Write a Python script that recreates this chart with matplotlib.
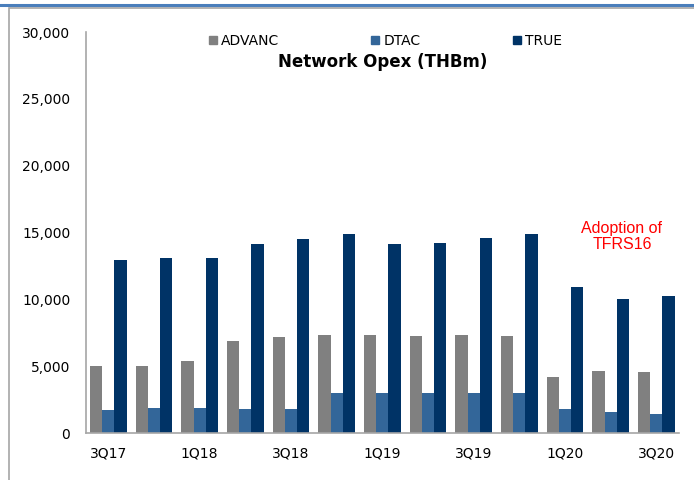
import numpy as np
import matplotlib
matplotlib.use('Agg')
from matplotlib import pyplot as plt
from matplotlib.patches import Rectangle
from matplotlib.lines import Line2D
from matplotlib.ticker import FuncFormatter

# quarterly network opex (THBm)
quarters = ['3Q17', '4Q17', '1Q18', '2Q18', '3Q18', '4Q18', '1Q19',
            '2Q19', '3Q19', '4Q19', '1Q20', '2Q20', '3Q20']
advanc = [5050, 5050, 5400, 6900, 7180, 7360, 7360, 7260, 7360, 7260, 4190, 4670, 4590]
dtac = [1700, 1900, 1900, 1800, 1800, 2990, 2990, 2990, 2990, 2990, 1800, 1600, 1420]
true_ = [12970, 13120, 13120, 14140, 14510, 14880, 14140, 14240, 14610, 14880, 10900, 10050, 10250]

series = [('ADVANC', advanc, '#808080'),
          ('DTAC', dtac, '#336699'),
          ('TRUE', true_, '#003366')]

fig = plt.figure(figsize=(6.94, 4.8), dpi=100)
ax = fig.add_axes([0.1232, 0.0979, 0.8555, 0.8354])

# grouped bars
x = np.arange(len(quarters))
w = 0.267
for i, (name, vals, col) in enumerate(series):
    ax.bar(x + (i - 1) * w, vals, width=w, color=col, label=name, zorder=2)

ax.set_xlim(-0.5, len(quarters) - 0.5)
ax.set_ylim(0, 30000)
ax.set_yticks(np.arange(0, 30001, 5000))
ax.yaxis.set_major_formatter(FuncFormatter(lambda v, p: '{:,.0f}'.format(v)))
ax.set_xticks(x[::2])
ax.set_xticklabels(quarters[::2])
ax.tick_params(axis='both', length=0, labelsize=10, colors='#000000')
ax.tick_params(axis='y', pad=11)
ax.tick_params(axis='x', pad=10)

for s in ['top', 'right']:
    ax.spines[s].set_visible(False)
for s in ['left', 'bottom']:
    ax.spines[s].set_color('#A6A6A6')
    ax.spines[s].set_linewidth(1.2)

# legend across the top
handles = [Line2D([], [], marker='s', linestyle='none', markersize=6,
                  color=col) for _, _, col in series]
ax.legend(handles, [s[0] for s in series], ncol=3, frameon=False,
          loc='center', bbox_to_anchor=(0.505, 0.9775), fontsize=10,
          handlelength=0.6, handletextpad=0.3, columnspacing=6.6,
          borderaxespad=0)

fig.text(0.552, 0.871, 'Network Opex (THBm)', ha='center', va='center',
         fontsize=12, fontweight='bold')

ax.text(11.245, 14700, 'Adoption of\nTFRS16', color='#FF0000', ha='center',
        va='center', fontsize=11.5, family='Liberation Sans', linespacing=1.15)

# report frame: blue rule, grey box and clipped caption above
fig.add_artist(Line2D([0, 1], [1 - 4.5 / 480, 1 - 4.5 / 480],
                      transform=fig.transFigure, color='#4A7EBB', lw=2.2))
fig.add_artist(Rectangle((8.5 / 694, -0.1), 1.2, 1.1 - 8 / 480,
                         transform=fig.transFigure, fill=False,
                         edgecolor='#A6A6A6', lw=1.2))
fig.text(10 / 694, 1 + 3.5 / 480, 'Figure 16: Network Opex (THBm)',
         color='#1F4E9A', fontsize=11, fontweight='bold', va='baseline')

fig.savefig('out.png', dpi=100)
